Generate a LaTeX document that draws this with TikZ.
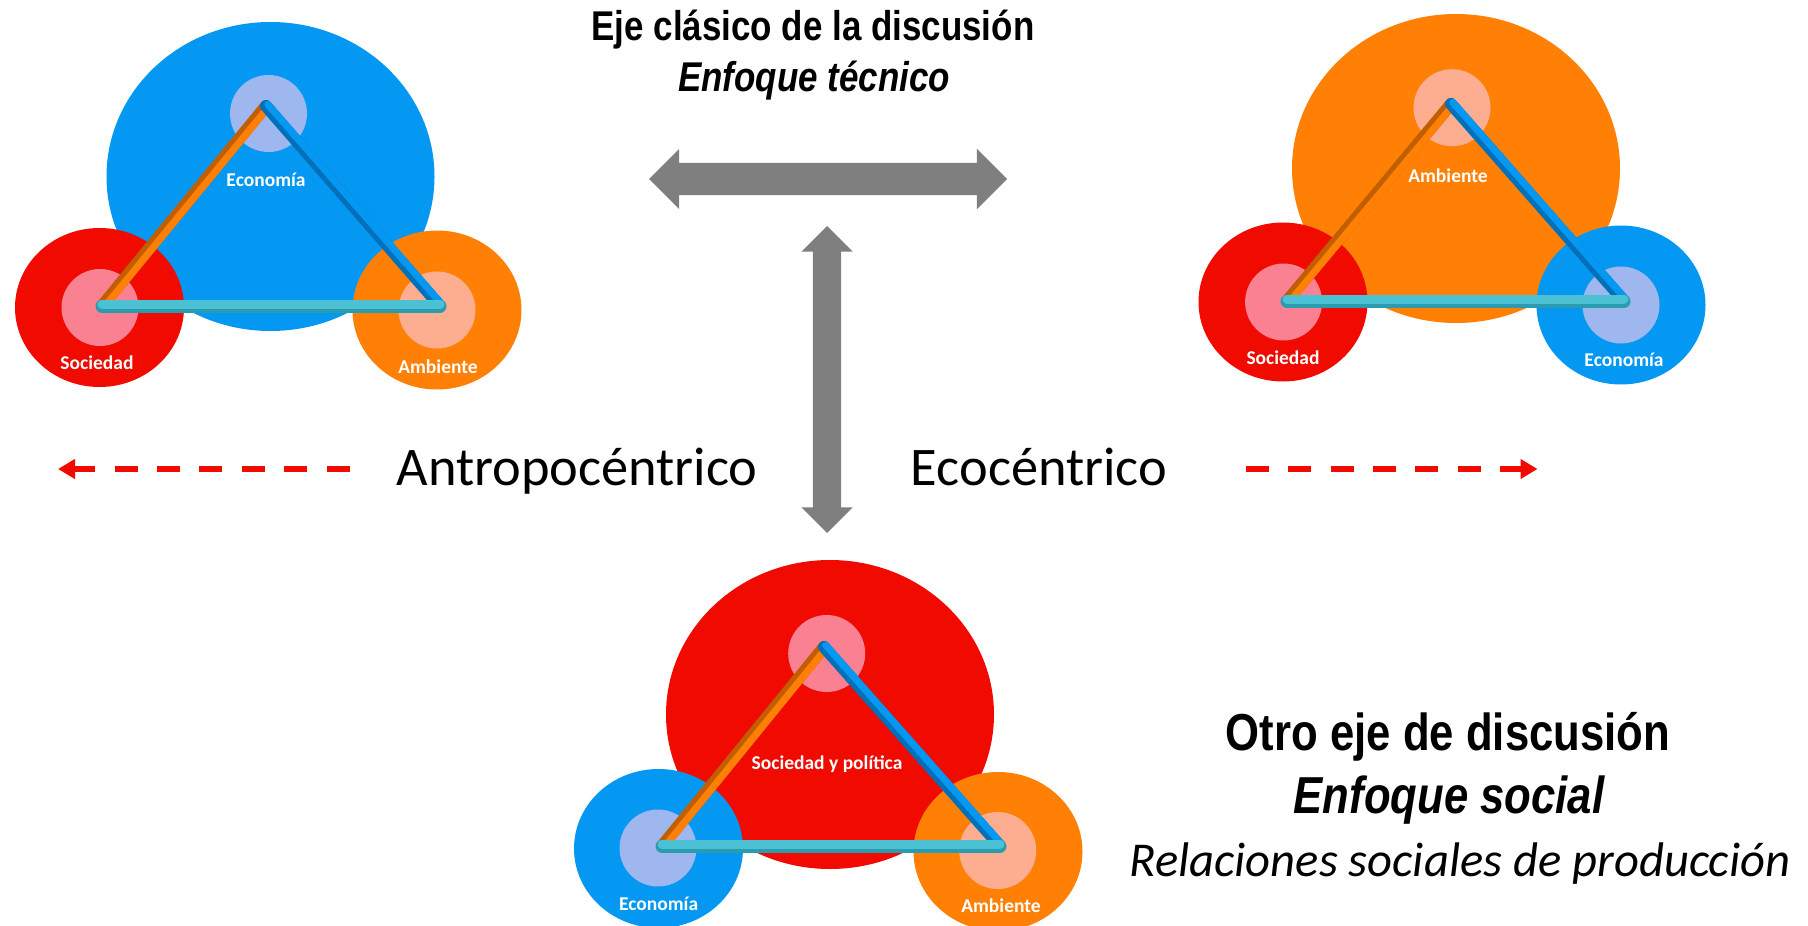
\documentclass[tikz,border=0pt]{standalone}
\usepackage{fontspec}
\newfontfamily\carlito{Carlito}
\newfontfamily\estrecha[FakeStretch=0.84]{Liberation Sans}
\usetikzlibrary{shapes.geometric, shapes.arrows, arrows.meta}

\definecolor{azul}{HTML}{0598F2}
\definecolor{rojo}{HTML}{F00A00}
\definecolor{naranja}{HTML}{FF8005}
\definecolor{lila}{HTML}{9EB7EE}
\definecolor{rosa}{HTML}{F98191}
\definecolor{durazno}{HTML}{FEAE90}
\definecolor{cian}{HTML}{4BC1D3}
\definecolor{cianOsc}{HTML}{2A9CAF}
\definecolor{naranjaOsc}{HTML}{C05E00}
\definecolor{azulOsc}{HTML}{0070B8}
\definecolor{gris}{HTML}{7F7F7F}

\begin{document}
\begin{tikzpicture}[x=1pt, y=-1pt,
    grande/.style={ellipse, minimum width=328pt, minimum height=309pt, inner sep=0},
    medio/.style={ellipse, minimum width=169pt, minimum height=159pt, inner sep=0},
    centro/.style={circle, minimum size=77pt, inner sep=0},
    etiqueta/.style={anchor=base, text=white, font=\carlito\bfseries\fontsize{19.5}{19.5}\selectfont},
    rodN/.style={line width=12pt, line cap=round, draw=naranjaOsc,
        postaction={draw=naranja, line width=7pt, transform canvas={xshift=1.9pt, yshift=-1.6pt}}},
    rodA/.style={line width=12pt, line cap=round, draw=azulOsc,
        postaction={draw=azul, line width=7pt, transform canvas={xshift=1.9pt, yshift=1.6pt}}},
    rodC/.style={line width=13pt, line cap=round, draw=cianOsc,
        postaction={draw=cian, line width=9pt, transform canvas={yshift=2pt}}},
    flecha/.style={double arrow, fill=gris, inner xsep=0pt},
    discont/.style={draw=rojo, line width=6.5pt, dash pattern=on 23pt off 19.4pt,
        -{Triangle[length=17pt, width=19pt]}},
    titulo/.style={anchor=base, font=\estrecha\bfseries\fontsize{41.6}{42}\selectfont},
    grueso/.style={anchor=base, font=\estrecha\bfseries\fontsize{52}{52}\selectfont},
    liviano/.style={anchor=base, font=\carlito\fontsize{54.4}{55}\selectfont}]

    \useasboundingbox (0,0) rectangle (1808,926);

    % Grupo izquierdo: Economia arriba
    \node[grande, fill=azul] (ecoG1) at (270.5,176.5) {};
    \node[medio, fill=rojo] (socM1) at (99.5,307.5) {};
    \node[medio, fill=naranja] (ambM1) at (437,310) {};
    \node[centro, fill=lila] (ecoC1) at (268.5,113.5) {};
    \node[centro, fill=rosa] (socC1) at (100,307.5) {};
    \node[centro, fill=durazno] (ambC1) at (437,310) {};
    \coordinate (t1) at (266,106);
    \coordinate (l1) at (102,306);
    \coordinate (r1) at (440,306);
    \draw[rodN] (l1) -- (t1);
    \draw[rodA] (t1) -- (r1);
    \draw[rodC] (l1) -- (r1);
    \node[etiqueta] (ecoT1) at (266,186) {Economía};
    \node[etiqueta] (socT1) at (97,369) {Sociedad};
    \node[etiqueta] (ambT1) at (438,373) {Ambiente};

    % Grupo derecho: Ambiente arriba
    \node[grande, fill=naranja] (ambG2) at (1456,168.5) {};
    \node[medio, fill=rojo] (socM2) at (1283,302) {};
    \node[medio, fill=azul] (ecoM2) at (1621,305) {};
    \node[centro, fill=durazno] (ambC2) at (1452,107.7) {};
    \node[centro, fill=rosa] (socC2) at (1283.6,302) {};
    \node[centro, fill=lila] (ecoC2) at (1621,305) {};
    \coordinate (t2) at (1451,104);
    \coordinate (l2) at (1287,301);
    \coordinate (r2) at (1624,301);
    \draw[rodN] (l2) -- (t2);
    \draw[rodA] (t2) -- (r2);
    \draw[rodC] (l2) -- (r2);
    \node[etiqueta] (ambT2) at (1448,182) {Ambiente};
    \node[etiqueta] (socT2) at (1283,364) {Sociedad};
    \node[etiqueta] (ecoT2) at (1624,366) {Economía};

    % Grupo de abajo: Sociedad y politica arriba
    \node[grande, fill=rojo] (socG3) at (830,714.5) {};
    \node[medio, fill=azul] (ecoM3) at (658.5,848.5) {};
    \node[medio, fill=naranja] (ambM3) at (998,851.5) {};
    \node[centro, fill=rosa] (socC3) at (826.7,653.5) {};
    \node[centro, fill=lila] (ecoC3) at (658,848) {};
    \node[centro, fill=durazno] (ambC3) at (997.7,850.5) {};
    \coordinate (t3) at (824,647);
    \coordinate (l3) at (662,846);
    \coordinate (r3) at (1000,846);
    \draw[rodN] (l3) -- (t3);
    \draw[rodA] (t3) -- (r3);
    \draw[rodC] (l3) -- (r3);
    \node[etiqueta] (socT3) at (827,769) {Sociedad y política};
    \node[etiqueta] (ecoT3) at (658.6,910) {Economía};
    \node[etiqueta] (ambT3) at (1001,912) {Ambiente};

    % Ejes grises
    \node[flecha, minimum height=358pt, inner ysep=16pt, double arrow head extend=14pt] (ejeH) at (828,179) {};
    \node[flecha, rotate=90, minimum height=307pt, inner ysep=14pt, double arrow head extend=11.5pt] (ejeV) at (827,379.5) {};

    % Flechas rojas punteadas
    \coordinate (antroIni) at (349.5,469);
    \coordinate (antroFin) at (58,469);
    \coordinate (ecoIni) at (1245.7,469);
    \coordinate (ecoFin) at (1537.5,469);
    \draw[discont] (antroIni) -- (antroFin);
    \draw[discont] (ecoIni) -- (ecoFin);

    % Textos
    \node[titulo] (eje) at (813,40) {Eje clásico de la discusión};
    \node[titulo, font=\estrecha\bfseries\itshape\fontsize{41.6}{42}\selectfont] (tecnico) at (814,91.5) {Enfoque técnico};
    \node[liviano] (antro) at (577,485.7) {Antropocéntrico};
    \node[liviano] (ecocen) at (1039,485.7) {Ecocéntrico};
    \node[grueso] (otro) at (1448,750) {Otro eje de discusión};
    \node[grueso, font=\estrecha\bfseries\itshape\fontsize{52}{52}\selectfont] (social) at (1449,813) {Enfoque social};
    \node[anchor=base, font=\carlito\itshape\fontsize{48.6}{49}\selectfont] (relac) at (1460,876) {Relaciones sociales de producción};
\end{tikzpicture}
\end{document}
